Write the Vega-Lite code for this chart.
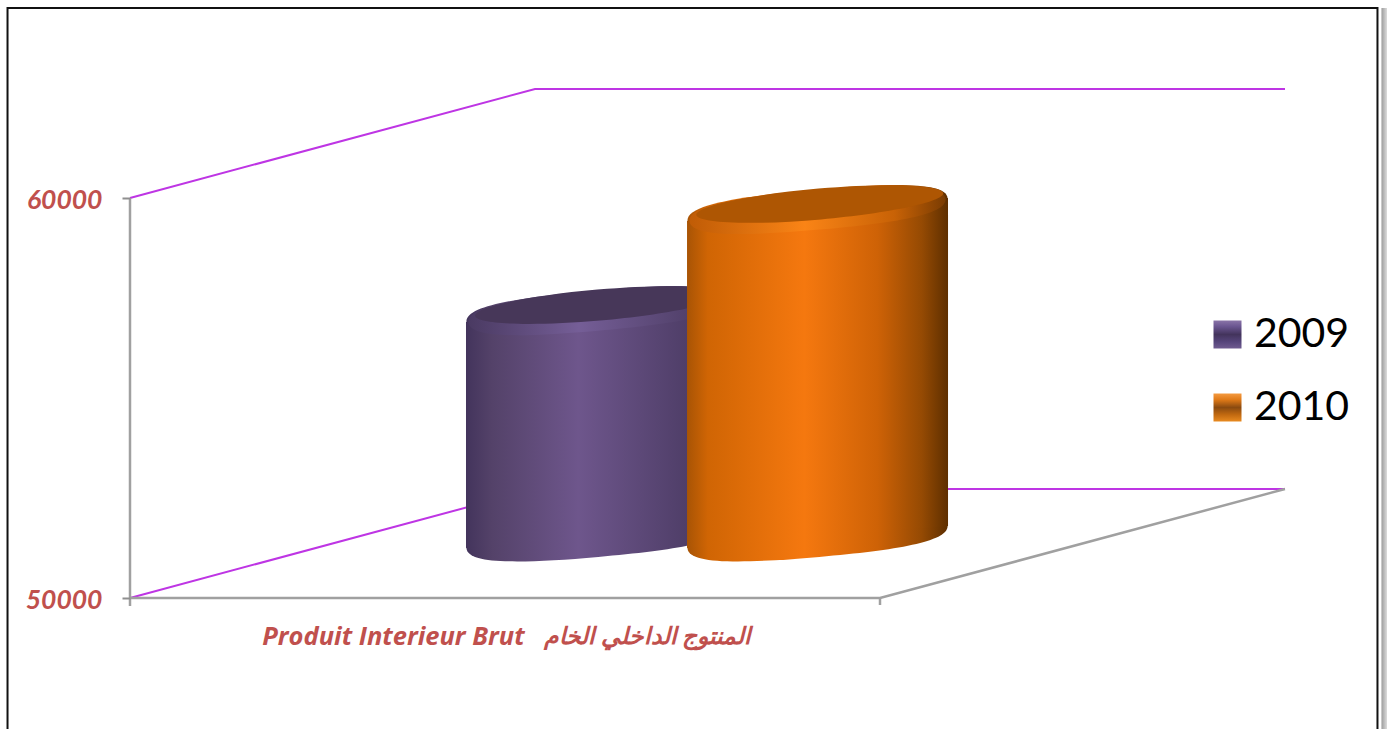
{
"$schema":"https://vega.github.io/schema/vega-lite/v6.json",
"width":1387,"height":729,"padding":0,"autosize":{"type":"none"},
"background":"white",
"config":{"view":{"stroke":null}},
"data":{"values":[
{"part":"shadow","x":1.6686,"x2":1.676,"y":64750,"y2":46725},
{"part":"frame","x":-0.1633,"x2":1.6633,"y":64750,"y2":46600},
{"part":"grid","line":"g60","ord":1,"x":0,"y":60000},
{"part":"grid","line":"g60","ord":2,"x":0.54,"y":62725},
{"part":"grid","line":"g60","ord":3,"x":1.54,"y":62725},
{"part":"grid","line":"g50","ord":1,"x":0,"y":50000},
{"part":"grid","line":"g50","ord":2,"x":0.54,"y":52725},
{"part":"grid","line":"g50","ord":3,"x":1.54,"y":52725},
{"part":"axis","line":"floor","ord":1,"x":0,"y":50000},
{"part":"axis","line":"floor","ord":2,"x":1,"y":50000},
{"part":"axis","line":"floor","ord":3,"x":1.54,"y":52725},
{"part":"axis","line":"left","ord":1,"x":0,"y":60000},
{"part":"axis","line":"left","ord":2,"x":0,"y":49800},
{"part":"axis","line":"tick","ord":1,"x":1,"y":50000},
{"part":"axis","line":"tick","ord":2,"x":1,"y":49825},
{"part":"body","series":"2009","x":0.448,"y":56900,"y2":51250},
{"part":"body","series":"2009","x":0.796,"y":57475,"y2":51800},
{"part":"base","series":"2009","x":0.622,"y":51525},
{"part":"top","series":"2009","x":0.622,"y":57187},
{"part":"rim","series":"2009","x":0.622,"y":57170},
{"part":"face","series":"2009","x":0.625,"y":57324},
{"part":"body","series":"2010","x":0.7427,"y":59425,"y2":51250},
{"part":"body","series":"2010","x":1.0907,"y":60000,"y2":51800},
{"part":"base","series":"2010","x":0.9167,"y":51525},
{"part":"top","series":"2010","x":0.9167,"y":59712},
{"part":"rim","series":"2010","x":0.9167,"y":59700},
{"part":"face","series":"2010","x":0.9197,"y":59850},
{"part":"label","x":0.3513,"y":49025,"label":"Produit Interieur Brut"},
{"part":"labelAr","x":0.69,"y":49025,"label":"المنتوج الداخلي الخام"}
]},
"encoding":{
"x":{"field":"x","type":"quantitative","axis":null,"scale":{"domain":[-0.17333,1.676],"nice":false,"zero":false}},
"y":{"field":"y","type":"quantitative","title":null,"scale":{"domain":[46725,64950],"nice":false,"zero":false},
"axis":{"values":[50000,60000],"format":"d","orient":"left","offset":-130,"zindex":1,"domain":false,"grid":false,"ticks":true,"tickSize":8,"tickColor":"#8f8f8f","tickWidth":2,"labelPadding":20,"labelOffset":2,"labelFont":"Lato","labelFontSize":26.5,"labelFontWeight":"bold","labelFontStyle":"italic","labelColor":"#C0504D"}}
},
"layer":[
{"transform":[{"filter":"datum.part==='shadow'"}],"mark":{"type":"rect","fill":{"gradient":"linear","x1":0,"x2":1,"y1":0,"y2":0,"stops":[{"offset":0,"color":"#9c9c9c"},{"offset":1,"color":"#dcdcdc"}]}},"encoding":{"x2":{"field":"x2"},"y2":{"field":"y2"}}},
{"transform":[{"filter":"datum.part==='frame'"}],"mark":{"type":"rect","fill":"white","stroke":"#111111","strokeWidth":2},"encoding":{"x2":{"field":"x2"},"y2":{"field":"y2"}}},
{"transform":[{"filter":"datum.part==='grid'"}],"mark":{"type":"line","color":"#BE35E4","strokeWidth":2},"encoding":{"detail":{"field":"line"},"order":{"field":"ord"}}},
{"transform":[{"filter":"datum.part==='axis'"}],"mark":{"type":"line","color":"#A0A0A0","strokeWidth":2.5},"encoding":{"detail":{"field":"line"},"order":{"field":"ord"}}},

{"transform":[{"filter":"datum.part==='face'"}],"mark":{"type":"point","filled":true,"opacity":0,"size":100},"encoding":{"color":{"field":"series","type":"nominal","title":null,"scale":{"domain":["2009","2010"],"range":[
{"expr":"{gradient:'linear',x1:0,x2:0,y1:0,y2:1,stops:[{offset:0,color:'#8A74A8'},{offset:0.22,color:'#6A5590'},{offset:0.5,color:'#43345C'},{offset:0.75,color:'#55447A'},{offset:1,color:'#6F5B90'}]}"},
{"expr":"{gradient:'linear',x1:0,x2:0,y1:0,y2:1,stops:[{offset:0,color:'#F49A40'},{offset:0.22,color:'#E07A18'},{offset:0.5,color:'#8A4A10'},{offset:0.75,color:'#C06810'},{offset:1,color:'#E88A20'}]}"}
]},
"legend":{"orient":"none","legendX":1207,"legendY":314,"padding":0,"symbolType":"square","symbolSize":784,"symbolStrokeWidth":0,"symbolOpacity":1,"labelFont":"Lato","labelFontSize":41,"labelColor":"#000000","labelOffset":6,"rowPadding":31,"values":["2009","2010"]}}}},

{"transform":[{"filter":"datum.part==='base' && datum.series==='2009'"}],"mark":{"type":"point","filled":true,"opacity":1,"size":68121,"shape":"M0.9962,-0.0872C1.0068,0.0347,0.611,0.1001,0.0133,0.1524C-0.5844,0.2047,-0.9856,0.2091,-0.9962,0.0872C-1.0068,-0.0347,-0.611,-0.1001,-0.0133,-0.1524C0.5844,-0.2047,0.9856,-0.2091,0.9962,-0.0872Z","fill":{"gradient":"linear","x1":0,"x2":1,"y1":0,"y2":0,"stops":[{"offset":0,"color":"#43345C"},{"offset":0.1,"color":"#544269"},{"offset":0.43,"color":"#6E568C"},{"offset":0.85,"color":"#4F3E68"},{"offset":1,"color":"#3A2C4E"}]}}},
{"transform":[{"filter":"datum.part==='body' && datum.series==='2009'"}],"mark":{"type":"area","opacity":1,"line":false,"fill":{"gradient":"linear","x1":0,"x2":1,"y1":0,"y2":0,"stops":[{"offset":0,"color":"#43345C"},{"offset":0.1,"color":"#544269"},{"offset":0.43,"color":"#6E568C"},{"offset":0.85,"color":"#4F3E68"},{"offset":1,"color":"#3A2C4E"}]}},"encoding":{"y2":{"field":"y2"}}},
{"transform":[{"filter":"datum.part==='top' && datum.series==='2009'"}],"mark":{"type":"point","filled":true,"opacity":1,"size":68121,"shape":"M0.9962,-0.0872C1.0068,0.0347,0.611,0.1001,0.0133,0.1524C-0.5844,0.2047,-0.9856,0.2091,-0.9962,0.0872C-1.0068,-0.0347,-0.611,-0.1001,-0.0133,-0.1524C0.5844,-0.2047,0.9856,-0.2091,0.9962,-0.0872Z","fill":{"gradient":"linear","x1":0,"x2":1,"y1":0,"y2":0,"stops":[{"offset":0,"color":"#43345C"},{"offset":0.1,"color":"#544269"},{"offset":0.43,"color":"#6E568C"},{"offset":0.85,"color":"#4F3E68"},{"offset":1,"color":"#3A2C4E"}]}}},
{"transform":[{"filter":"datum.part==='rim' && datum.series==='2009'"}],"mark":{"type":"point","filled":true,"opacity":1,"size":66049,"shape":"M0.9962,-0.0872C1.0068,0.0347,0.611,0.1001,0.0133,0.1524C-0.5844,0.2047,-0.9856,0.2091,-0.9962,0.0872C-1.0068,-0.0347,-0.611,-0.1001,-0.0133,-0.1524C0.5844,-0.2047,0.9856,-0.2091,0.9962,-0.0872Z","fill":{"gradient":"linear","x1":0,"x2":1,"y1":0,"y2":0,"stops":[{"offset":0,"color":"#4A3A62"},{"offset":0.43,"color":"#755E97"},{"offset":1,"color":"#46375C"}]}}},
{"transform":[{"filter":"datum.part==='face' && datum.series==='2009'"}],"mark":{"type":"point","filled":true,"opacity":1,"size":61504,"fill":"#473759","shape":"M0.9962,-0.0872C1.0022,-0.0184,0.5611,0.0763,0.0109,0.1245C-0.5393,0.1727,-0.9902,0.156,-0.9962,0.0872C-1.0022,0.0184,-0.5611,-0.0763,-0.0109,-0.1245C0.5393,-0.1727,0.9902,-0.156,0.9962,-0.0872Z"}},

{"transform":[{"filter":"datum.part==='base' && datum.series==='2010'"}],"mark":{"type":"point","filled":true,"opacity":1,"size":68121,"shape":"M0.9962,-0.0872C1.0068,0.0347,0.611,0.1001,0.0133,0.1524C-0.5844,0.2047,-0.9856,0.2091,-0.9962,0.0872C-1.0068,-0.0347,-0.611,-0.1001,-0.0133,-0.1524C0.5844,-0.2047,0.9856,-0.2091,0.9962,-0.0872Z","fill":{"gradient":"linear","x1":0,"x2":1,"y1":0,"y2":0,"stops":[{"offset":0,"color":"#A85405"},{"offset":0.08,"color":"#D06504"},{"offset":0.45,"color":"#F5780F"},{"offset":0.73,"color":"#CE6206"},{"offset":0.9,"color":"#954A03"},{"offset":1,"color":"#5E2F00"}]}}},
{"transform":[{"filter":"datum.part==='body' && datum.series==='2010'"}],"mark":{"type":"area","opacity":1,"line":false,"fill":{"gradient":"linear","x1":0,"x2":1,"y1":0,"y2":0,"stops":[{"offset":0,"color":"#A85405"},{"offset":0.08,"color":"#D06504"},{"offset":0.45,"color":"#F5780F"},{"offset":0.73,"color":"#CE6206"},{"offset":0.9,"color":"#954A03"},{"offset":1,"color":"#5E2F00"}]}},"encoding":{"y2":{"field":"y2"}}},
{"transform":[{"filter":"datum.part==='top' && datum.series==='2010'"}],"mark":{"type":"point","filled":true,"opacity":1,"size":68121,"shape":"M0.9962,-0.0872C1.0068,0.0347,0.611,0.1001,0.0133,0.1524C-0.5844,0.2047,-0.9856,0.2091,-0.9962,0.0872C-1.0068,-0.0347,-0.611,-0.1001,-0.0133,-0.1524C0.5844,-0.2047,0.9856,-0.2091,0.9962,-0.0872Z","fill":{"gradient":"linear","x1":0,"x2":1,"y1":0,"y2":0,"stops":[{"offset":0,"color":"#A85405"},{"offset":0.08,"color":"#D06504"},{"offset":0.45,"color":"#F5780F"},{"offset":0.73,"color":"#CE6206"},{"offset":0.9,"color":"#954A03"},{"offset":1,"color":"#5E2F00"}]}}},
{"transform":[{"filter":"datum.part==='rim' && datum.series==='2010'"}],"mark":{"type":"point","filled":true,"opacity":1,"size":66049,"shape":"M0.9962,-0.0872C1.0068,0.0347,0.611,0.1001,0.0133,0.1524C-0.5844,0.2047,-0.9856,0.2091,-0.9962,0.0872C-1.0068,-0.0347,-0.611,-0.1001,-0.0133,-0.1524C0.5844,-0.2047,0.9856,-0.2091,0.9962,-0.0872Z","fill":{"gradient":"linear","x1":0,"x2":1,"y1":0,"y2":0,"stops":[{"offset":0,"color":"#C05C06"},{"offset":0.45,"color":"#FA8416"},{"offset":0.8,"color":"#C86206"},{"offset":1,"color":"#7A3C02"}]}}},
{"transform":[{"filter":"datum.part==='face' && datum.series==='2010'"}],"mark":{"type":"point","filled":true,"opacity":1,"size":61504,"fill":"#AE5603","shape":"M0.9962,-0.0872C1.0022,-0.0184,0.5611,0.0763,0.0109,0.1245C-0.5393,0.1727,-0.9902,0.156,-0.9962,0.0872C-1.0022,0.0184,-0.5611,-0.0763,-0.0109,-0.1245C0.5393,-0.1727,0.9902,-0.156,0.9962,-0.0872Z"}},

{"transform":[{"filter":"datum.part==='label'"}],"mark":{"type":"text","font":"Open Sans","fontSize":25.5,"fontWeight":"bold","fontStyle":"italic","color":"#C0504D","align":"center","baseline":"middle"},"encoding":{"text":{"field":"label"}}},
{"transform":[{"filter":"datum.part==='labelAr'"}],"mark":{"type":"text","font":"Lato","fontSize":23.5,"fontWeight":"bold","fontStyle":"italic","color":"#C0504D","align":"center","baseline":"middle"},"encoding":{"text":{"field":"label"}}}
]
}
